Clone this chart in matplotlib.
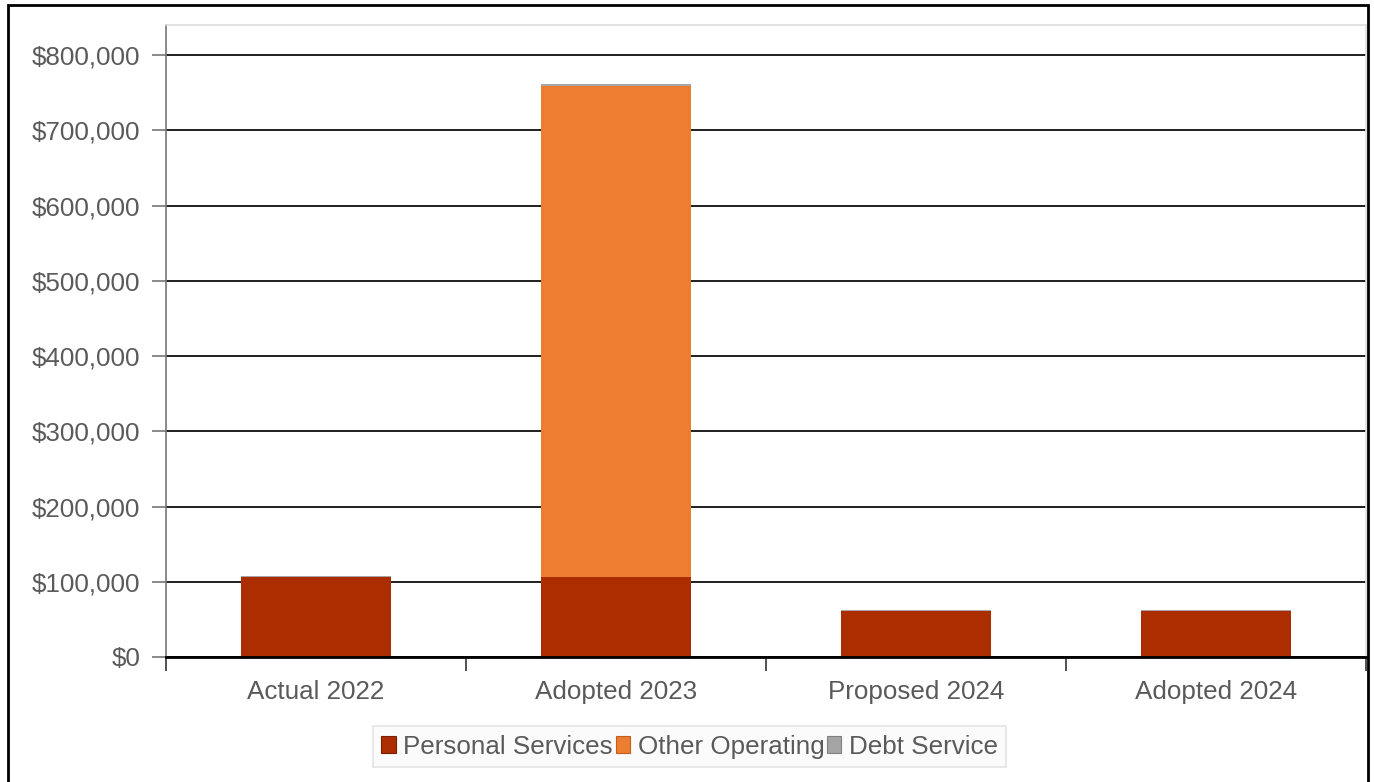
"""Budget by category, stacked bars."""
import matplotlib
matplotlib.use("Agg")
import matplotlib.pyplot as plt
import matplotlib.patches as mpatches
from matplotlib.ticker import FuncFormatter, FixedLocator
import numpy as np

plt.rcParams["font.family"] = ["Liberation Sans", "DejaVu Sans"]

categories = ["Actual 2022", "Adopted 2023", "Proposed 2024", "Adopted 2024"]
personal_services = [106500, 106000, 61000, 61000]
other_operating = [0, 653500, 0, 0]
debt_service = [1200, 1500, 1200, 1200]

SERIES_COLORS = {
    "Personal Services": "#ab2d00",
    "Other Operating": "#ed7d31",
    "Debt Service": "#a5a5a5",
}
EDGE_COLORS = {
    "Personal Services": "#7a2000",
    "Other Operating": "#c0601f",
    "Debt Service": "#808080",
}
TEXT_COLOR = "#5a5a5a"

fig = plt.figure(figsize=(13.74, 7.82), dpi=100)
ax = fig.add_axes([166 / 1374, 1 - 657 / 782, 1200 / 1374, (657 - 25) / 782])

x = np.arange(len(categories))
bottom = np.zeros(len(categories))
for name, vals in [("Personal Services", personal_services),
                   ("Other Operating", other_operating),
                   ("Debt Service", debt_service)]:
    vals = np.array(vals, dtype=float)
    ax.bar(x, vals, width=0.5, bottom=bottom, color=SERIES_COLORS[name],
           edgecolor="none", zorder=3)
    bottom += vals

ax.set_xlim(-0.5, len(categories) - 0.5)
ax.set_ylim(0, 840000)

# y axis: dollar ticks with dark gridlines
ax.yaxis.set_major_locator(FixedLocator(np.arange(0, 800001, 100000)))
ax.yaxis.set_major_formatter(FuncFormatter(lambda v, _: f"${v:,.0f}"))
ax.grid(axis="y", color="#1e1e1e", linewidth=1.4, zorder=1)
ax.tick_params(axis="y", length=10, width=1.2, color="#777777", pad=8.5,
               labelsize=18.7, labelcolor=TEXT_COLOR)

# x axis: labels centred on bars, ticks between categories
ax.set_xticks(x)
ax.set_xticklabels(categories)
ax.set_xticks(np.arange(-0.5, len(categories)), minor=True)
ax.tick_params(axis="x", which="major", length=0, pad=16.5,
               labelsize=18.7, labelcolor=TEXT_COLOR)
ax.tick_params(axis="x", which="minor", length=10, width=1.2, color="#333333")

for side in ["top", "right"]:
    ax.spines[side].set_color("#dddddd")
    ax.spines[side].set_linewidth(1.2)
ax.spines["left"].set_color("#777777")
ax.spines["left"].set_linewidth(1.2)
ax.spines["bottom"].set_color("#000000")
ax.spines["bottom"].set_linewidth(2)
ax.spines["bottom"].set_zorder(5)

handles = [mpatches.Patch(facecolor=SERIES_COLORS[n], edgecolor=EDGE_COLORS[n],
                          linewidth=0.8, label=n)
           for n in SERIES_COLORS]
leg = fig.legend(handles=handles, loc="center", bbox_to_anchor=(0.502, 0.045),
                 ncol=3, fontsize=18.7, frameon=True, fancybox=False,
                 handlelength=0.55, handleheight=0.6, handletextpad=0.3,
                 columnspacing=0.1, borderpad=0.32, labelcolor=TEXT_COLOR)
leg.get_frame().set_facecolor("#fafafa")
leg.get_frame().set_edgecolor("#dddddd")
leg.get_frame().set_linewidth(1.2)

# outer frame
fig.patches.append(mpatches.Rectangle((8 / 1374, -0.05), 1360 / 1374, 1.05 - 5 / 782,
                                      transform=fig.transFigure, fill=False,
                                      edgecolor="black", linewidth=2))

fig.savefig("out.png", dpi=100)
